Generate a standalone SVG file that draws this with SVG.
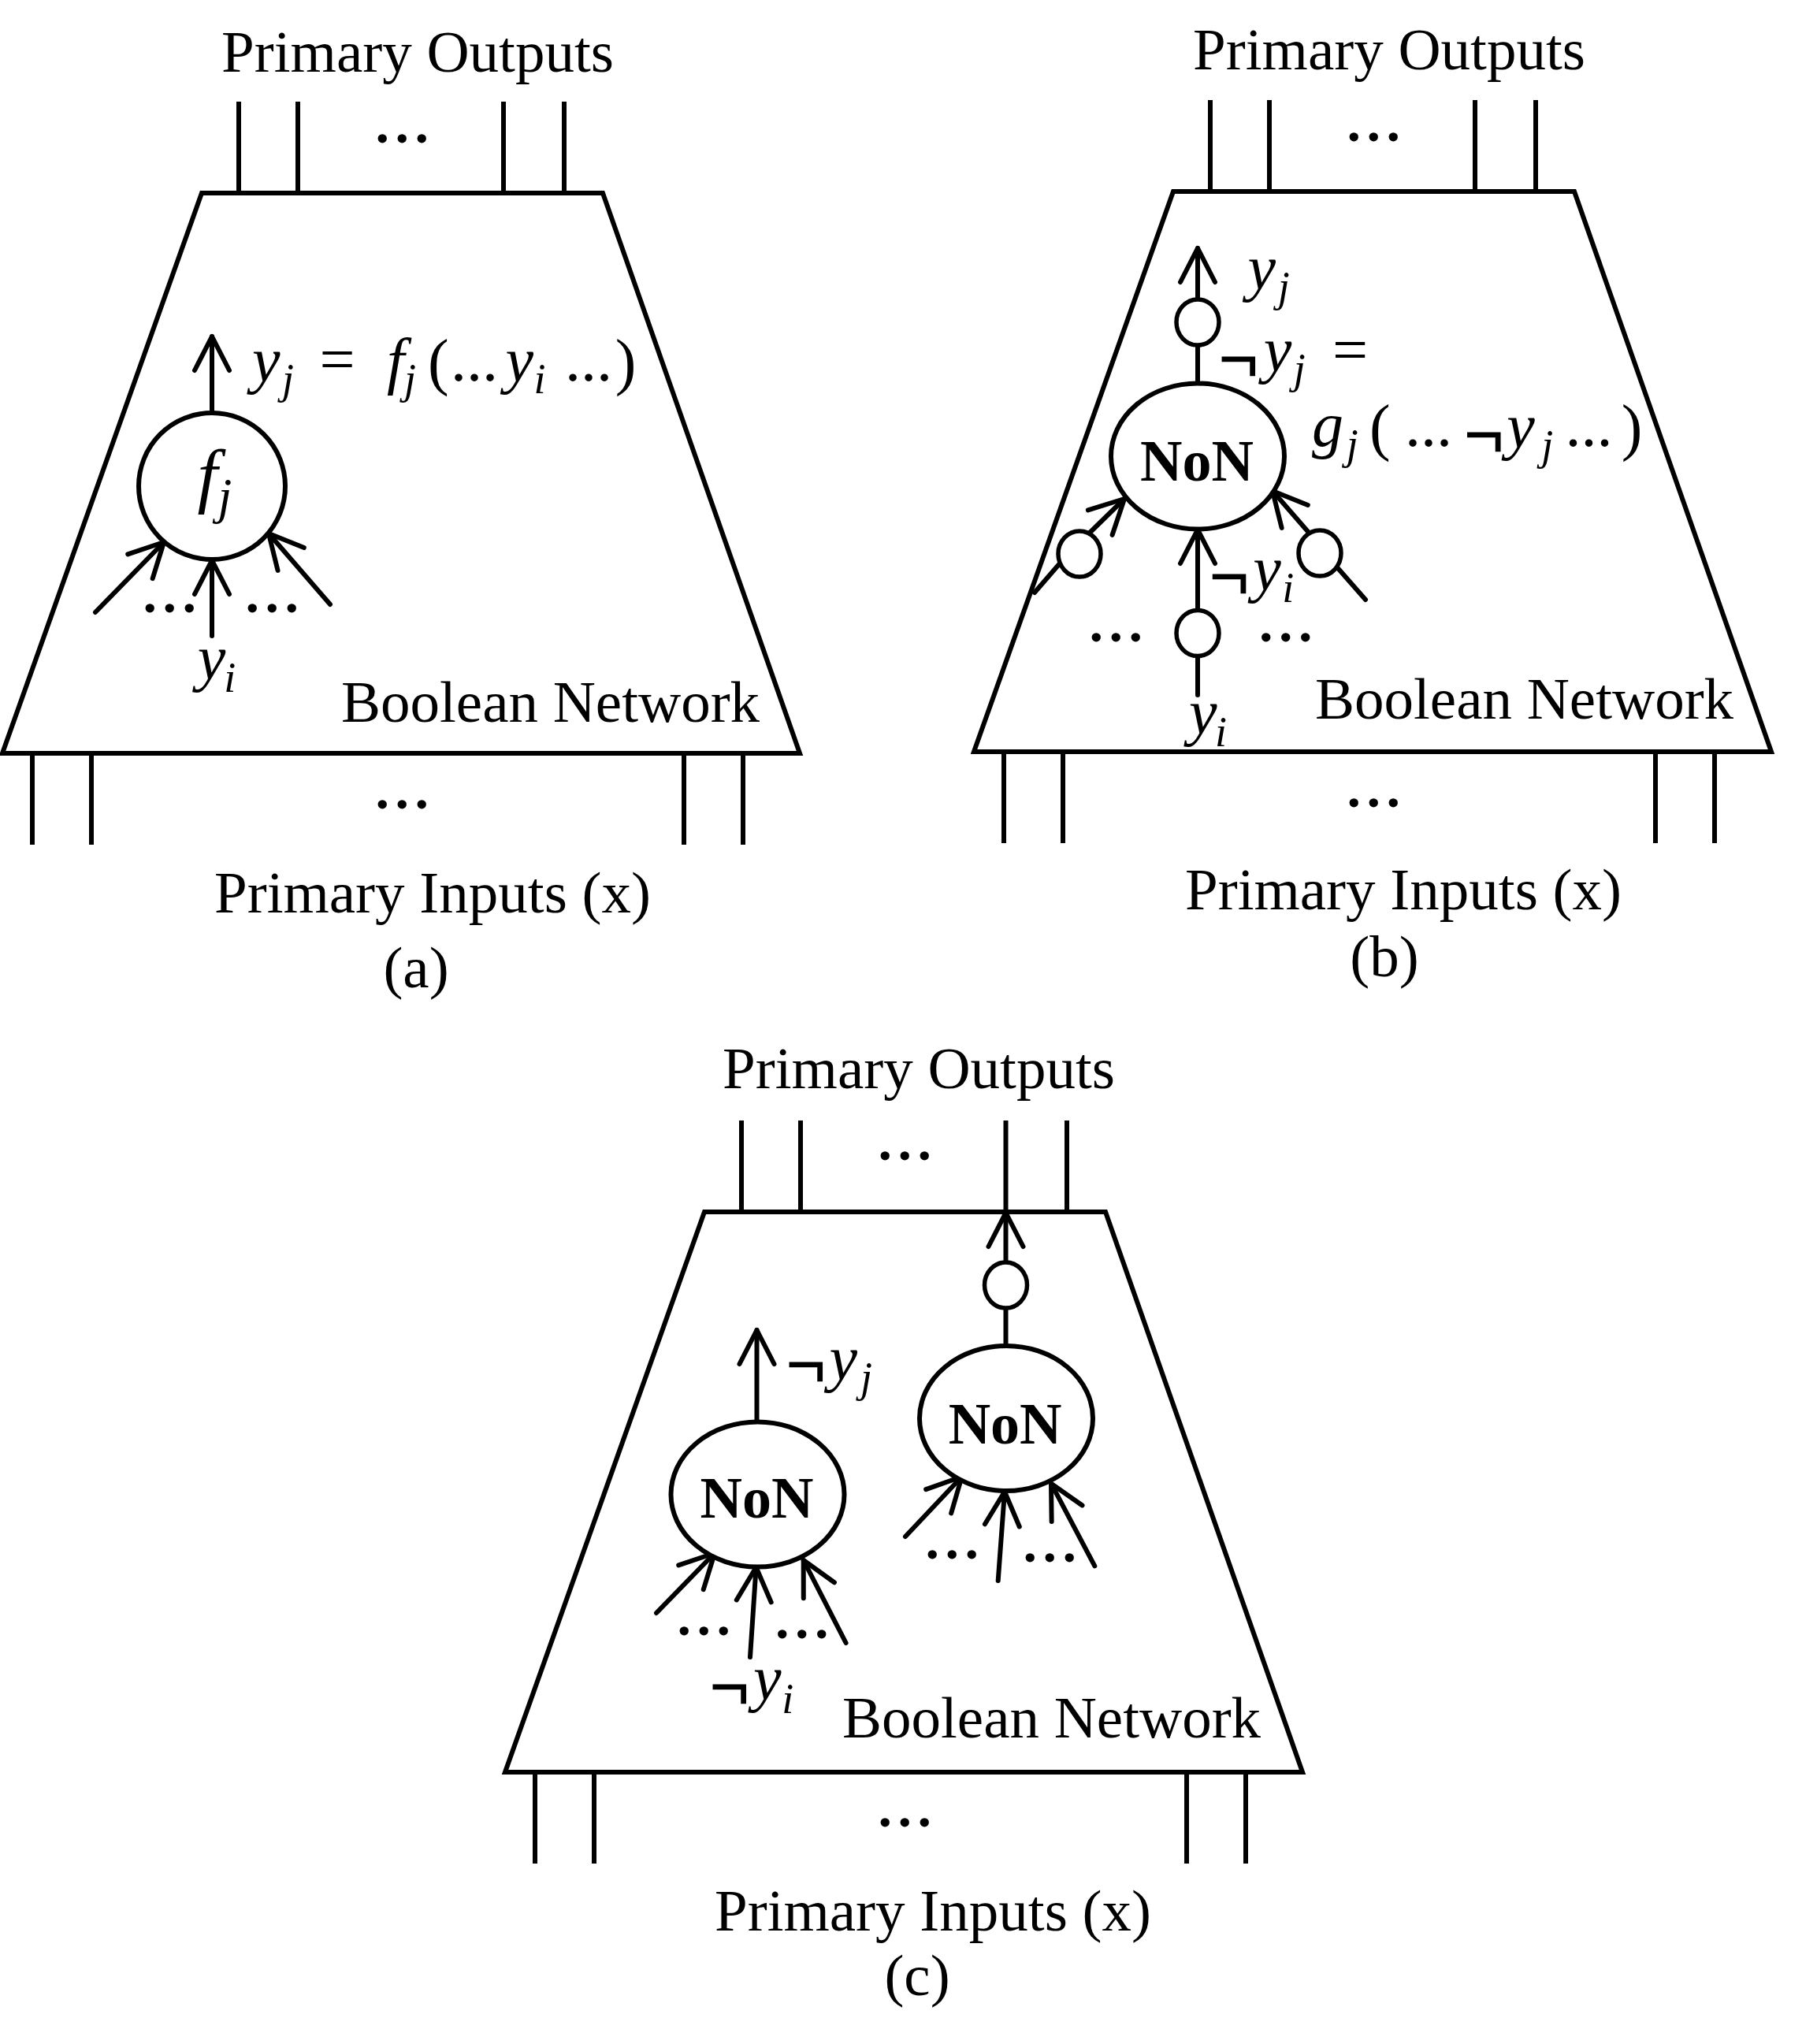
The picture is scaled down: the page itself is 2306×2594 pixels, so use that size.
<svg xmlns="http://www.w3.org/2000/svg" width="2306" height="2594" viewBox="0 0 2306 2594">
<style>
.tr{fill:none;stroke:#000;stroke-width:6;stroke-linejoin:miter}
.pin{stroke:#000;stroke-width:6;fill:none;stroke-linecap:butt}
.ln{stroke:#000;stroke-width:6;fill:none;stroke-linecap:round}
.ar{stroke:#000;stroke-width:6;fill:none;stroke-linecap:round;marker-end:url(#ah)}
.nd{fill:#fff;stroke:#000;stroke-width:6}
.bb{fill:#fff;stroke:#000;stroke-width:5.5}
.t{font-family:"Liberation Serif","Times New Roman",serif;font-size:75px;fill:#000}
.c{text-anchor:middle}
.dots{font-family:"Liberation Serif","Times New Roman",serif;font-size:70px;font-weight:bold;letter-spacing:7.5px;text-anchor:middle;fill:#000}
.m{font-family:"Liberation Serif","Times New Roman",serif;font-style:italic;font-size:80px;fill:#000}
.s{font-family:"Liberation Serif","Times New Roman",serif;font-style:italic;font-size:54px;fill:#000}
.r{font-family:"Liberation Serif","Times New Roman",serif;font-size:80px;fill:#000}
.ng{font-family:"Liberation Serif","Times New Roman",serif;font-size:86px;fill:#000;stroke:#000;stroke-width:2.5}
.non{font-family:"Liberation Serif","Times New Roman",serif;font-weight:bold;font-size:74px;text-anchor:middle;fill:#000}
</style>
<defs>
<marker id="ah" markerUnits="userSpaceOnUse" markerWidth="60" markerHeight="60" viewBox="-50 -30 60 60" refX="0" refY="0" orient="auto">
<path d="M-43,-22 L0,0 L-43,22" fill="none" stroke="#000" stroke-width="6" stroke-linecap="round" stroke-linejoin="round"/>
</marker>
</defs>
<rect width="2306" height="2594" fill="#fff"/>

<!-- ===== Panel (a) ===== -->
<g id="net-a">
<path class="tr" d="M256,245 H765 L1015,956 H3 Z"/>
<text class="t" x="433" y="916">Boolean Network</text>
</g>
<g id="po-a">
<text class="t c" x="530" y="91">Primary Outputs</text>
<path class="pin" d="M303,129V245M378,129V245M639,129V245M716,129V245"/>
<text class="dots" x="514" y="180.5">...</text>
</g>
<g id="pi-a">
<path class="pin" d="M41,956V1072M116,956V1072M868,956V1072M943,956V1072"/>
<text class="dots" x="514" y="1025.5">...</text>
<text class="t c" x="549" y="1158">Primary Inputs (x)</text>
<text class="t c" x="528" y="1253">(a)</text>
</g>
<g id="node-fj">
<circle class="nd" cx="269" cy="617" r="93"/>
<text class="m" x="250.5" y="634" style="font-size:92px">f</text>
<text class="s" x="276.6" y="651" style="font-size:64px">j</text>
</g>
<g id="label-a-yj">
<text class="m" x="320" y="484">y</text>
<text class="s" x="358" y="499">j</text>
<text class="r" x="405.6" y="482.6">=</text>
<text class="m" x="491" y="485">f</text>
<text class="s" x="513" y="499">j</text>
<text class="r" x="543" y="486">(</text>
<text class="r" x="572" y="483">...</text>
<text class="m" x="641.4" y="484">y</text>
<text class="s" x="677.5" y="498.5">i</text>
<text class="r" x="717" y="483">...</text>
<text class="r" x="780.8" y="486">)</text>
</g>
<g id="label-a-yi">
<text class="m" x="250.8" y="862.4">y</text>
<text class="s" x="284.3" y="878.4">i</text>
</g>
<g id="dots-a">
<text class="dots" x="219" y="777">...</text>
<text class="dots" x="349" y="777">...</text>
</g>

<!-- ===== Panel (b) ===== -->
<g id="net-b">
<path class="tr" d="M1489,243 H1998 L2248,954 H1236 Z"/>
<text class="t" x="1669" y="912">Boolean Network</text>
</g>
<g id="po-b">
<text class="t c" x="1763" y="88">Primary Outputs</text>
<path class="pin" d="M1536,127V243M1611,127V243M1872,127V243M1949,127V243"/>
<text class="dots" x="1747" y="178.5">...</text>
</g>
<g id="pi-b">
<path class="pin" d="M1274,954V1070M1349,954V1070M2101,954V1070M2176,954V1070"/>
<text class="dots" x="1747" y="1023.5">...</text>
<text class="t c" x="1781" y="1154">Primary Inputs (x)</text>
<text class="t c" x="1757" y="1239">(b)</text>
</g>

<g id="connectors">
<!-- (a) -->
<line class="ar" x1="269" y1="524" x2="269" y2="427"/>
<line class="ar" x1="269" y1="807" x2="269" y2="711"/>
<line class="ar" x1="121" y1="777" x2="208" y2="688"/>
<line class="ar" x1="419" y1="767" x2="341" y2="677"/>
<!-- (b) -->
<line class="ar" x1="1520" y1="380" x2="1520" y2="315"/>
<line class="ln" x1="1520" y1="487" x2="1520" y2="438"/>
<line class="ar" x1="1520" y1="774" x2="1520" y2="672"/>
<line class="ln" x1="1520" y1="833" x2="1520" y2="882"/>
<line class="ar" x1="1382" y1="677" x2="1427" y2="633"/>
<line class="ln" x1="1313" y1="752" x2="1345" y2="715"/>
<line class="ar" x1="1662" y1="677" x2="1615" y2="623"/>
<line class="ln" x1="1697" y1="720" x2="1733" y2="761"/>
<!-- (c) -->
<line class="ar" x1="960.5" y1="1804" x2="960.5" y2="1688"/>
<line class="ar" x1="833" y1="2047" x2="907" y2="1971"/>
<line class="ar" x1="952" y1="2103" x2="959.6" y2="1989"/>
<line class="ar" x1="1073.6" y1="2085" x2="1019.7" y2="1980"/>
<line class="ln" x1="1276.5" y1="1708" x2="1276.5" y2="1660"/>
<line class="ar" x1="1276.5" y1="1602" x2="1276.5" y2="1539"/>
<line class="ar" x1="1149" y1="1950" x2="1220.7" y2="1874"/>
<line class="ar" x1="1266.7" y1="2006" x2="1275" y2="1893"/>
<line class="ar" x1="1389.3" y1="1987.3" x2="1334" y2="1882.7"/>
</g>

<g id="node-non-b">
<ellipse class="nd" cx="1520" cy="579" rx="110" ry="92.5"/>
<text class="non" x="1519" y="609.5">NoN</text>
</g>
<g id="inv-b-out"><ellipse class="bb" cx="1520" cy="409" rx="27" ry="29"/></g>
<g id="inv-b-left"><ellipse class="bb" cx="1370" cy="703" rx="27" ry="29"/></g>
<g id="inv-b-mid"><ellipse class="bb" cx="1520" cy="803.5" rx="27" ry="29"/></g>
<g id="inv-b-right"><ellipse class="bb" cx="1675" cy="702" rx="27" ry="29"/></g>
<g id="label-b-yj">
<text class="m" x="1583.6" y="367">y</text>
<text class="s" x="1621.7" y="382.4">j</text>
</g>
<g id="label-b-nyj">
<text class="ng" x="1547.4" y="484.5">¬</text>
<text class="m" x="1603.7" y="471.2">y</text>
<text class="s" x="1641.7" y="485.8">j</text>
<text class="r" x="1690.9" y="471.3">=</text>
</g>
<g id="label-b-gj">
<text class="m" x="1665" y="566.2">g</text>
<text class="s" x="1708.7" y="582">j</text>
<text class="r" x="1738" y="569.4">(</text>
<text class="r" x="1783" y="566">...</text>
<text class="ng" x="1859" y="580.7">¬</text>
<text class="m" x="1912.3" y="568">y</text>
<text class="s" x="1956.2" y="583.4">j</text>
<text class="r" x="1986.4" y="566">...</text>
<text class="r" x="2057.7" y="569.4">)</text>
</g>
<g id="label-b-nyi">
<text class="ng" x="1535.7" y="761">¬</text>
<text class="m" x="1590.2" y="748.6">y</text>
<text class="s" x="1627.3" y="764">i</text>
</g>
<g id="label-b-yi">
<text class="m" x="1509" y="931">y</text>
<text class="s" x="1542" y="947">i</text>
</g>
<g id="dots-b">
<text class="dots" x="1420" y="814">...</text>
<text class="dots" x="1635.5" y="814">...</text>
</g>

<!-- ===== Panel (c) ===== -->
<g id="net-c">
<path class="tr" d="M894,1538 H1403 L1653,2249 H641 Z"/>
<text class="t" x="1069" y="2205">Boolean Network</text>
</g>
<g id="po-c">
<text class="t c" x="1166" y="1381">Primary Outputs</text>
<path class="pin" d="M941,1422V1538M1016,1422V1538M1276.5,1422V1538M1354,1422V1538"/>
<text class="dots" x="1152" y="1471.5">...</text>
</g>
<g id="pi-c">
<path class="pin" d="M679,2249V2365M754,2249V2365M1506,2249V2365M1581,2249V2365"/>
<text class="dots" x="1152" y="2317.5">...</text>
<text class="t c" x="1184" y="2450">Primary Inputs (x)</text>
<text class="t c" x="1164" y="2532">(c)</text>
</g>
<g id="node-non-c1">
<ellipse class="nd" cx="961.5" cy="1896.5" rx="110" ry="92"/>
<text class="non" x="960.5" y="1926.4">NoN</text>
</g>
<g id="node-non-c2">
<ellipse class="nd" cx="1277" cy="1800" rx="110" ry="92"/>
<text class="non" x="1275.6" y="1831.5">NoN</text>
</g>
<g id="inv-c"><ellipse class="bb" cx="1276.5" cy="1631" rx="27" ry="29"/></g>
<g id="label-c-nyj">
<text class="ng" x="998.4" y="1761">¬</text>
<text class="m" x="1052.6" y="1750.6">y</text>
<text class="s" x="1091.9" y="1765.7">j</text>
</g>
<g id="label-c-nyi">
<text class="ng" x="901.4" y="2169.5">¬</text>
<text class="m" x="955.9" y="2157">y</text>
<text class="s" x="992.3" y="2174">i</text>
</g>
<g id="dots-c">
<text class="dots" x="897" y="2075">...</text>
<text class="dots" x="1021.5" y="2078.5">...</text>
<text class="dots" x="1212" y="1978">...</text>
<text class="dots" x="1336" y="1982">...</text>
</g>
</svg>
